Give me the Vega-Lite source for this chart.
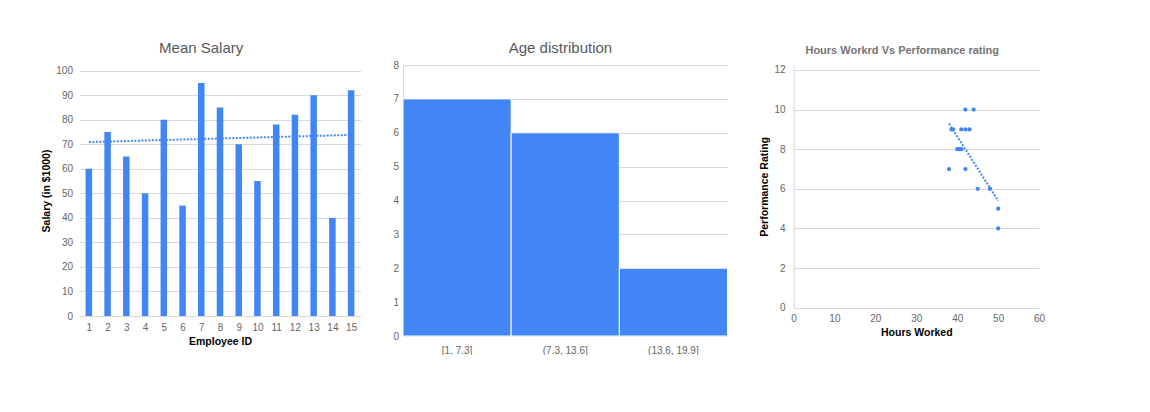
{
  "$schema": "https://vega.github.io/schema/vega-lite/v6.json",
  "background": "white",
  "padding": {"left": 41.5, "top": 40, "right": 0, "bottom": 0},
  "spacing": 31.5,
  "config": {
    "font": "Liberation Sans",
    "view": {"stroke": null},
    "axis": {
      "labelFont": "Liberation Sans",
      "labelFontSize": 10,
      "labelColor": "#666666",
      "labelOverlap": false,
      "labelFlush": false,
      "titleFont": "Liberation Sans",
      "titleFontSize": 10.5,
      "titleFontWeight": "bold",
      "titleColor": "#000000",
      "gridColor": "#d9d9d9",
      "gridWidth": 1,
      "ticks": false,
      "domain": false
    },
    "title": {"font": "Liberation Sans", "anchor": "middle", "frame": "bounds", "fontWeight": "normal", "color": "#595959", "fontSize": 15}
  },
  "datasets": {
    "salary": [
      {"id": 1, "salary": 60}, {"id": 2, "salary": 75}, {"id": 3, "salary": 65},
      {"id": 4, "salary": 50}, {"id": 5, "salary": 80}, {"id": 6, "salary": 45},
      {"id": 7, "salary": 95}, {"id": 8, "salary": 85}, {"id": 9, "salary": 70},
      {"id": 10, "salary": 55}, {"id": 11, "salary": 78}, {"id": 12, "salary": 82},
      {"id": 13, "salary": 90}, {"id": 14, "salary": 40}, {"id": 15, "salary": 92}
    ],
    "salaryTrend": [
      {"id": 1, "salary": 70.9}, {"id": 15, "salary": 73.8}
    ],
    "ages": [
      {"range": "[1, 7.3]", "count": 7},
      {"range": "(7.3, 13.6]", "count": 6},
      {"range": "(13.6, 19.9]", "count": 2}
    ],
    "perf": [
      {"hours": 42, "rating": 10}, {"hours": 44, "rating": 10},
      {"hours": 38.6, "rating": 9}, {"hours": 39, "rating": 9}, {"hours": 41, "rating": 9},
      {"hours": 42, "rating": 9}, {"hours": 43, "rating": 9},
      {"hours": 40, "rating": 8}, {"hours": 40.5, "rating": 8}, {"hours": 41, "rating": 8},
      {"hours": 38, "rating": 7}, {"hours": 42, "rating": 7},
      {"hours": 45, "rating": 6}, {"hours": 48, "rating": 6},
      {"hours": 50, "rating": 5}, {"hours": 50, "rating": 4}
    ]
  },
  "hconcat": [
    {
      "width": 281,
      "height": 251,
      "title": {"text": "Mean Salary", "offset": 9.2},
      "encoding": {
        "x": {
          "field": "id", "type": "quantitative",
          "scale": {"domain": [0.5, 15.5], "nice": false, "zero": false, "padding": 0},
          "axis": {"values": [1,2,3,4,5,6,7,8,9,10,11,12,13,14,15], "grid": false, "labelPadding": 6, "labelOverlap": false, "title": "Employee ID", "titlePadding": 4}
        },
        "y": {
          "field": "salary", "type": "quantitative",
          "scale": {"domain": [0, 102.3], "nice": false, "zero": false},
          "axis": {"values": [0,10,20,30,40,50,60,70,80,90,100], "labelPadding": 7, "labelOverlap": false, "title": "Salary (in $1000)", "titlePadding": 4}
        }
      },
      "layer": [
        {
          "data": {"name": "salary"},
          "mark": {"type": "bar", "size": 6.5, "color": "#4285F4"}
        },
        {
          "data": {"name": "salaryTrend"},
          "mark": {"type": "line", "color": "#4285F4", "strokeDash": [2, 1.5], "strokeWidth": 2}
        }
      ]
    },
    {
      "width": 324.5,
      "height": 271,
      "title": {"text": "Age distribution", "offset": 4},
      "data": {"name": "ages"},
      "mark": {"type": "bar", "color": "#4285F4", "stroke": "white", "strokeWidth": 1},
      "encoding": {
        "x": {
          "field": "range", "type": "nominal", "sort": null,
          "scale": {"paddingInner": 0, "paddingOuter": 0},
          "axis": {"labelAngle": 0, "labelPadding": 9, "title": null}
        },
        "y": {
          "field": "count", "type": "quantitative",
          "scale": {"domain": [0, 8], "nice": false},
          "axis": {"values": [0,1,2,3,4,5,6,7,8], "labelPadding": 4.5, "labelOverlap": false, "title": null, "domain": true, "domainColor": "#d9d9d9"}
        }
      }
    },
    {
      "width": 245.6,
      "height": 242.7,
      "title": {"text": "Hours Workrd Vs Performance rating", "offset": 8.5, "fontSize": 11, "fontWeight": "bold", "color": "#757575"},
      "data": {"name": "perf"},
      "encoding": {
        "x": {
          "field": "hours", "type": "quantitative",
          "scale": {"domain": [0, 60], "nice": false},
          "axis": {"values": [0,10,20,30,40,50,60], "grid": false, "labelPadding": 6, "labelOverlap": false, "title": "Hours Worked", "titlePadding": 3.5}
        },
        "y": {
          "field": "rating", "type": "quantitative",
          "scale": {"domain": [0, 12.25], "nice": false, "zero": false},
          "axis": {"values": [0,2,4,6,8,10,12], "labelPadding": 8.4, "labelOverlap": false, "title": "Performance Rating", "titlePadding": 4.2, "domain": true, "domainColor": "#d9d9d9"}
        }
      },
      "layer": [
        {
          "mark": {"type": "circle", "size": 18, "color": "#4285F4", "opacity": 1}
        },
        {
          "transform": [{"regression": "rating", "on": "hours"}],
          "mark": {"type": "line", "color": "#4285F4", "strokeDash": [2, 1.5], "strokeWidth": 2}
        }
      ]
    }
  ]
}
